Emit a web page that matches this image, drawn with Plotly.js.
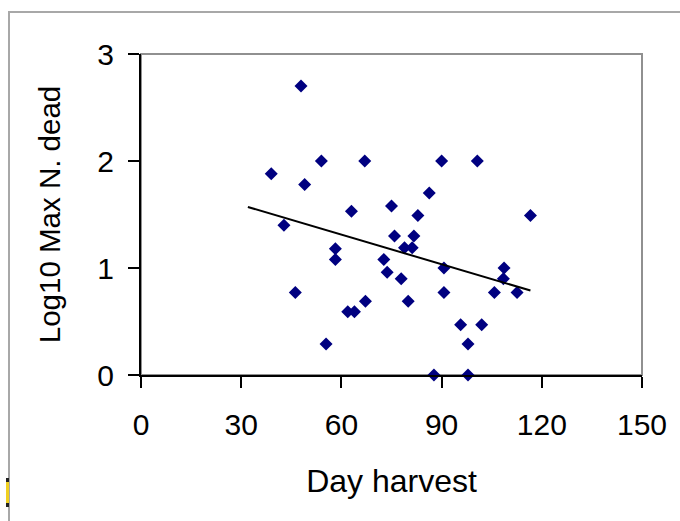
<!DOCTYPE html>
<html>
<head>
<meta charset="utf-8">
<script src="https://cdn.plot.ly/plotly-3.0.1.min.js"></script>
<style>
  html, body { margin: 0; padding: 0; background: #ffffff; }
  #wrap { position: relative; width: 680px; height: 521px; overflow: hidden; }
  #frame { position: absolute; left: 8px; top: 11px; width: 700px; height: 560px;
           border-left: 2px solid #a8a8a8; border-top: 2px solid #a8a8a8; pointer-events: none; }
  #mark { position: absolute; left: 6px; top: 478px; width: 3px; height: 29px;
          background: #f0d020; border-top: 4px solid #222; border-bottom: 4px solid #222; box-sizing: border-box; }
  #chart { position: absolute; left: 0; top: 0; width: 680px; height: 521px; }
</style>
</head>
<body>
<div id="wrap">
  <div id="frame"></div>
  <div id="mark"></div>
  <div id="chart"></div>
</div>
<script>
// Day of harvest for each observation
var dayHarvest = [39, 42.8, 46.2, 47.9, 49, 54, 55.4, 58.2, 58.2, 61.9,
                  63.9, 63, 67, 67.2, 72.7, 73.7, 75, 75.9, 77.9, 78.9,
                  80, 81.2, 81.7, 82.9, 86.3, 87.7, 90, 90.7, 90.7, 95.7,
                  97.9, 97.9, 100.7, 102, 105.8, 108.5, 108.7, 112.6, 116.6];
// Log10 of maximum number dead
var log10MaxDead = [1.88, 1.40, 0.77, 2.70, 1.78, 2.00, 0.29, 1.18, 1.08, 0.59,
                    0.59, 1.53, 2.00, 0.69, 1.08, 0.96, 1.58, 1.30, 0.90, 1.19,
                    0.69, 1.19, 1.30, 1.49, 1.70, 0.00, 2.00, 1.00, 0.77, 0.47,
                    0.29, 0.00, 2.00, 0.47, 0.77, 0.90, 1.00, 0.77, 1.49];
// Linear trend line end points
var trendX = [32, 116.6];
var trendY = [1.57, 0.79];

var xTicks = [0, 30, 60, 90, 120, 150];
var yTicks = [0, 1, 2, 3];

var fontFam = '"Liberation Sans", Arial, sans-serif';

var data = [
  {
    x: dayHarvest, y: log10MaxDead, type: 'scatter', mode: 'markers',
    cliponaxis: false,
    marker: { symbol: 'diamond', size: 10, color: '#000080', line: { width: 0 } },
    hoverinfo: 'x+y', showlegend: false
  },
  {
    x: trendX, y: trendY, type: 'scatter', mode: 'lines',
    line: { color: '#000000', width: 2 },
    hoverinfo: 'skip', showlegend: false
  }
];

var layout = {
  width: 680, height: 521,
  paper_bgcolor: 'rgba(0,0,0,0)',
  plot_bgcolor: '#ffffff',
  margin: { l: 141, r: 38, t: 54, b: 146 },
  font: { family: fontFam, color: '#000000' },
  showlegend: false,
  xaxis: {
    range: [0, 150], tickvals: xTicks, ticktext: xTicks.map(String),
    showgrid: false, zeroline: false,
    showline: true, linecolor: '#000000', linewidth: 2,
    ticks: 'outside', ticklen: 11, tickwidth: 2, tickcolor: '#000000',
    tickfont: { size: 30, family: fontFam, color: '#000000' },
    ticklabelstandoff: 11,
    title: { text: 'Day harvest', font: { size: 32, family: fontFam, color: '#000000' }, standoff: 30 },
    automargin: false, fixedrange: true
  },
  yaxis: {
    range: [0, 3], tickvals: yTicks, ticktext: yTicks.map(String),
    showgrid: false, zeroline: false,
    showline: true, linecolor: '#000000', linewidth: 2,
    ticks: 'outside', ticklen: 11, tickwidth: 2, tickcolor: '#000000',
    tickfont: { size: 30, family: fontFam, color: '#000000' },
    ticklabelstandoff: 8,
    title: { text: 'Log10 Max N. dead', font: { size: 29.5, family: fontFam, color: '#000000' }, standoff: 28 },
    automargin: false, fixedrange: true
  },
  shapes: [
    { type: 'rect', xref: 'paper', yref: 'paper', x0: 0, x1: 1, y0: 0, y1: 1,
      line: { color: '#909090', width: 2 }, fillcolor: 'rgba(0,0,0,0)', layer: 'below' }
  ]
};

Plotly.newPlot('chart', data, layout, { displayModeBar: false, staticPlot: true });
</script>
</body>
</html>
